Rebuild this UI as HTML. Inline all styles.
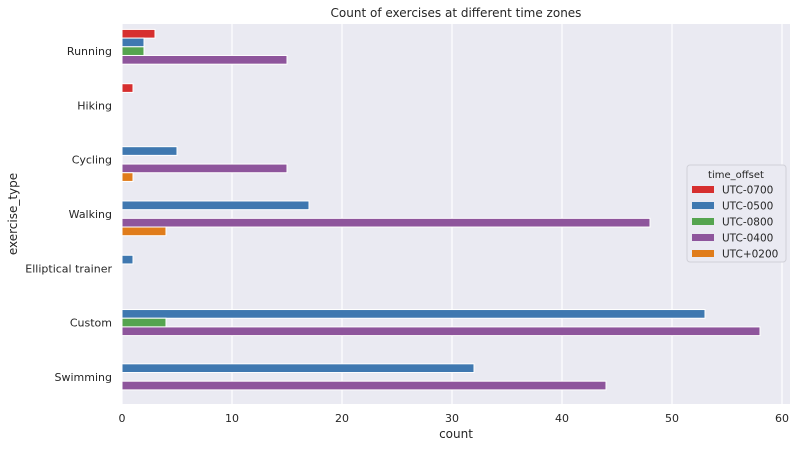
<!DOCTYPE html>
<html><head><meta charset="utf-8"><style>
body{margin:0;background:#fff;font-family:"Liberation Sans","DejaVu Sans",sans-serif}
svg text{font-family:"DejaVu Sans","Liberation Sans",sans-serif;fill:#262626}
</style></head><body>
<svg id="c" width="804" height="447" xmlns="http://www.w3.org/2000/svg"></svg>
<script>
const categories=["Running","Hiking","Cycling","Walking","Elliptical trainer","Custom","Swimming"];
const seriesNames=["UTC-0700","UTC-0500","UTC-0800","UTC-0400","UTC+0200"];
const colors=["#d62f2f","#3f78b0","#55a44f","#8e559c","#e07c1b"];
const s0700=[3,1,0,0,0,0,0];
const s0500=[2,0,5,17,1,53,32];
const s0800=[2,0,0,0,0,4,0];
const s0400=[15,0,15,48,0,58,44];
const s0200=[0,0,1,4,0,0,0];
const series=[s0700,s0500,s0800,s0400,s0200];
const xTicks=[0,10,20,30,40,50,60];
const L=122,R=790,T=24,B=404;
const xs=v=>L+v*11;
const band=(B-T)/categories.length;
const svg=document.getElementById('c');
const NS='http://www.w3.org/2000/svg';
function mk(t,a,txt){const e=document.createElementNS(NS,t);for(const k in a)e.setAttribute(k,a[k]);if(txt!==undefined)e.textContent=txt;svg.appendChild(e);return e;}
let e=mk('rect',{x:L,y:T,width:R-L,height:B-T,fill:'#eaeaf2'});

xTicks.forEach(t=>{
 let g=mk('line',{x1:xs(t),x2:xs(t),y1:T,y2:B,stroke:'#fff','stroke-width':1.2});
 
 let l=mk('text',{x:xs(t),y:422,'font-size':11,'text-anchor':'middle'},t);
 
});
const bh=band*0.8/series.length;
categories.forEach((c,i)=>{
 const cy=T+band*(i+0.5);
 let l=mk('text',{x:L-10,y:cy+4,'font-size':11,'text-anchor':'end'},c);
 
 series.forEach((s,j)=>{
  if(!s[i])return;
  const y=cy-band*0.4+j*bh;
  let r=mk('rect',{x:xs(0),y:y,width:xs(s[i])-xs(0),height:bh,fill:colors[j],stroke:'#fff','stroke-width':1});
  
 });
});
e=mk('text',{x:(L+R)/2,y:17,'font-size':12,'text-anchor':'middle'},'Count of exercises at different time zones');

e=mk('text',{x:(L+R)/2,y:438,'font-size':12,'text-anchor':'middle'},'count');

e=mk('text',{x:17,y:(T+B)/2,'font-size':12,'text-anchor':'middle',transform:`rotate(-90 17 ${(T+B)/2})`},'exercise_type');

e=mk('rect',{x:687,y:165,width:99,height:97,rx:3,fill:'#eaeaf2',stroke:'#d0d0d8'});

e=mk('text',{x:736,y:178,'font-size':10,'text-anchor':'middle'},'time_offset');

seriesNames.forEach((n,j)=>{
 const y=186+j*16;
 let r=mk('rect',{x:692,y:y,width:22,height:7,fill:colors[j]});
 
 let t=mk('text',{x:722,y:y+7.5,'font-size':10.5},n);
 
});
</script>
</body></html>
